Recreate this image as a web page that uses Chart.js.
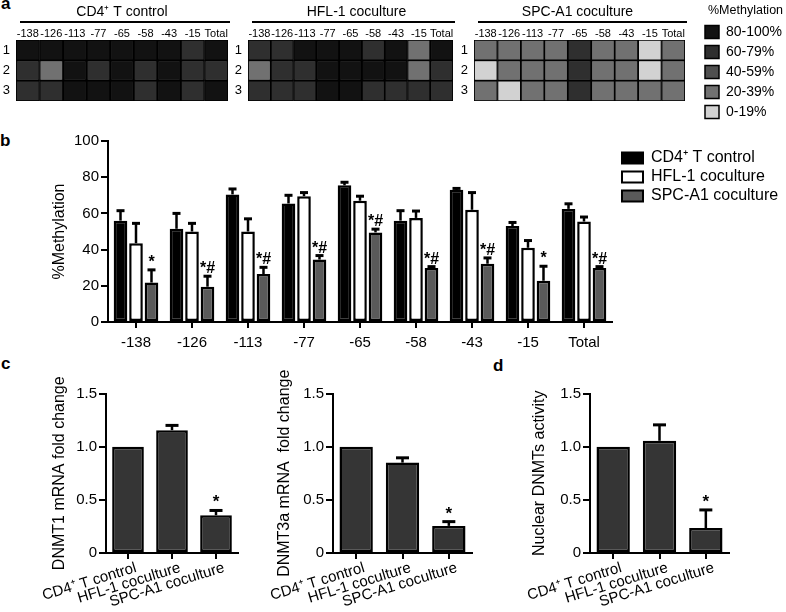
<!DOCTYPE html>
<html><head><meta charset="utf-8">
<script src="https://cdn.jsdelivr.net/npm/chart.js@4.4.1/dist/chart.umd.min.js"></script>
<style>
html,body{margin:0;padding:0;background:#fff;}
body{width:786px;height:612px;position:relative;overflow:hidden;font-family:'Liberation Sans',Arial,sans-serif;}
.box{position:absolute;}
.lab{position:absolute;font:bold 17px 'Liberation Sans',Arial,sans-serif;color:#000;line-height:17px;}
</style></head><body>
<div class="lab" style="left:1px;top:-5px">a</div>
<div class="lab" style="left:0px;top:132px">b</div>
<div class="lab" style="left:1px;top:355px">c</div>
<div class="lab" style="left:493px;top:357px">d</div>

<div class="box" style="left:0px;top:0px;width:232px;height:104px"><canvas id="hCD4"></canvas></div>
<div class="box" style="left:228px;top:0px;width:232px;height:104px"><canvas id="hHFL"></canvas></div>
<div class="box" style="left:455px;top:0px;width:233px;height:104px"><canvas id="hSPC"></canvas></div>
<div class="box" style="left:699px;top:0px;width:200px;height:140px"><canvas id="hLeg"></canvas></div>

<div class="box" style="left:0px;top:115px;width:620px;height:245px"><canvas id="bMain"></canvas></div>
<div class="box" style="left:619px;top:147px;width:380px;height:70px"><canvas id="bLeg"></canvas></div>

<div class="box" style="left:0px;top:370px;width:246px;height:242px"><canvas id="c1"></canvas></div>
<div class="box" style="left:220px;top:370px;width:260px;height:242px"><canvas id="c2"></canvas></div>
<div class="box" style="left:480px;top:370px;width:257px;height:242px"><canvas id="d1"></canvas></div>

<script>
// ---------- data ----------
const positions = ['-138','-126','-113','-77','-65','-58','-43','-15','Total'];
const rowLabels = ['1','2','3'];
const levelLabels = ['80-100%','60-79%','40-59%','20-39%','0-19%'];
const levelColors = ['#121212','#2f2f2f','#4f4f4f','#717171','#d2d2d2'];
// heatmap levels: index into levelLabels, rows 1..3
const cd4Levels = [
  [0,0,0,0,0,0,0,1,0],
  [1,3,0,1,0,1,0,1,1],
  [1,1,0,0,0,1,0,1,0]
];
const hflLevels = [
  [1,1,0,0,0,1,0,3,0],
  [3,1,1,0,0,0,0,3,1],
  [1,1,1,0,0,1,1,1,1]
];
const spcLevels = [
  [3,3,3,3,1,3,3,4,3],
  [4,3,3,3,1,3,3,4,3],
  [3,4,3,3,1,3,3,3,3]
];

const groups = ['CD4\u207A T control','HFL-1 coculture','SPC-A1 coculture'];
const groupColors = ['#000000','#ffffff','#5a5a5a'];

const cd4Meth = [56,51.5,70.5,65.5,75.5,56,73,53,62.5];
const cd4Err  = [5.5,8.5,3,4.5,1.7,5.5,0.8,2,2.8];
const hflMeth = [43.5,50,50,69.5,67,57.5,62,41,55.5];
const hflErr  = [11,4.5,7,2,2.5,3.8,9.5,4,2.5];
const spcMeth = [21.8,19.5,26.5,34.5,49.5,29.8,32.2,22.8,29.8];
const spcErr  = [7,5.8,3.7,2.2,1.8,0.8,3.2,8,0.8];
const spcMarks = ['*','*#','*#','*#','*#','*#','*#','*','*#'];
const methTicks = [0,20,40,60,80,100];

const dnmt1 = [1.0,1.155,0.355];
const dnmt1Err = [0,0.045,0.045];
const dnmt3a = [1.0,0.85,0.255];
const dnmt3aErr = [0,0.045,0.04];
const dnmtAct = [1.0,1.055,0.235];
const dnmtActErr = [0,0.15,0.17];
const cdMarks = ['','','*'];

// ---------- setup ----------
const FONT = "'Liberation Sans', Arial, sans-serif";
Chart.defaults.font.family = FONT;
Chart.defaults.color = '#000';
Chart.defaults.animation = false;
Chart.defaults.devicePixelRatio = 1;
Chart.defaults.events = [];
Chart.defaults.plugins.tooltip.enabled = false;

const errPlugin = {
  id: 'errbars',
  afterDatasetsDraw(chart, args, opts) {
    const ctx = chart.ctx, yS = chart.scales.y;
    chart.data.datasets.forEach((ds, di) => {
      const meta = chart.getDatasetMeta(di);
      meta.data.forEach((bar, i) => {
        const v = ds.data[i];
        const e = ds.err ? ds.err[i] : 0;
        const yTop = yS.getPixelForValue(v + e);
        ctx.save();
        ctx.strokeStyle = '#000';
        ctx.lineWidth = opts.lineWidth;
        if (e > 0) {
          ctx.beginPath();
          ctx.moveTo(bar.x, bar.y);
          ctx.lineTo(bar.x, yTop);
          ctx.stroke();
          ctx.lineWidth = opts.capWidth;
          ctx.beginPath();
          ctx.moveTo(bar.x - opts.cap / 2, yTop);
          ctx.lineTo(bar.x + opts.cap / 2, yTop);
          ctx.stroke();
        }
        if (ds.marks && ds.marks[i]) {
          ctx.fillStyle = '#000';
          ctx.font = opts.font;
          ctx.textAlign = 'center';
          ctx.textBaseline = 'alphabetic';
          ctx.fillText(ds.marks[i], bar.x + (opts.markDx || 0), yTop - opts.markGap);
        }
        ctx.restore();
      });
    });
  }
};

const headerPlugin = {
  id: 'header',
  afterDraw(chart, args, opts) {
    const ctx = chart.ctx, a = chart.chartArea;
    ctx.save();
    ctx.fillStyle = '#000';
    ctx.font = '14px ' + FONT;
    ctx.textAlign = 'center';
    ctx.textBaseline = 'middle';
    ctx.fillText(opts.text, (a.left + a.right) / 2 + (opts.dx || 0), 12);
    ctx.strokeStyle = '#000';
    ctx.lineWidth = 2;
    ctx.beginPath();
    ctx.moveTo(a.left + 4, 22);
    ctx.lineTo(a.right + 2, 22);
    ctx.stroke();
    ctx.restore();
  }
};

function heatChart(id, levels, title, yWidth, padRight, dx) {
  return new Chart(document.getElementById(id), {
    type: 'bar',
    data: {
      labels: positions,
      datasets: levels.map((row, r) => ({
        label: rowLabels[r],
        data: row.map(() => 1),
        backgroundColor: row.map(l => levelColors[l]),
        borderColor: '#000',
        borderWidth: 1.2,
        borderSkipped: false,
        categoryPercentage: 1,
        barPercentage: 1
      }))
    },
    options: {
      responsive: true, maintainAspectRatio: false,
      layout: { padding: { top: 22, right: padRight, bottom: 3, left: 0 } },
      plugins: { legend: { display: false }, header: { text: title, dx: dx } },
      scales: {
        x: {
          position: 'top', stacked: true,
          grid: { display: false, drawTicks: false }, border: { display: false },
          ticks: { font: { size: 11 }, color: '#000', padding: -1, autoSkip: false, maxRotation: 0 },
          afterFit(s) { s.height = 18; s.paddingLeft = 0; s.paddingRight = 0; }
        },
        y: {
          stacked: true, reverse: true, min: 0, max: rowLabels.length,
          grid: { display: false, drawTicks: false }, border: { display: false },
          afterBuildTicks(s) { s.ticks = rowLabels.map((l, i) => ({ value: i + 0.5 })); },
          ticks: { font: { size: 13 }, color: '#000', padding: 6, autoSkip: false,
                   callback: (v) => rowLabels[Math.floor(v)] },
          afterFit(s) { s.width = yWidth; s.paddingTop = 0; s.paddingBottom = 0; }
        }
      }
    },
    plugins: [headerPlugin]
  });
}

heatChart('hCD4', cd4Levels, 'CD4\u207A T control', 16, 4, 0);
heatChart('hHFL', hflLevels, 'HFL-1 coculture', 20, 7, 6);
heatChart('hSPC', spcLevels, 'SPC-A1 coculture', 19, 3, -2);

// heatmap legend
new Chart(document.getElementById('hLeg'), {
  type: 'bar',
  data: { labels: [], datasets: [] },
  options: {
    responsive: true, maintainAspectRatio: false,
    layout: { padding: 0 },
    scales: { x: { display: false }, y: { display: false } },
    plugins: {
      legend: {
        display: true, position: 'left', align: 'start',
        title: { display: true, text: '%Methylation', font: { size: 12.5 }, color: '#000', padding: { top: 4, bottom: 0 }, position: 'center' },
        labels: {
          boxWidth: 14, boxHeight: 13, padding: 6, font: { size: 14 }, color: '#000',
          generateLabels: () => levelLabels.map((t, i) => ({
            text: t, fillStyle: levelColors[i], strokeStyle: '#000', lineWidth: 1.5, hidden: false, index: i
          }))
        }
      }
    }
  }
});

// panel b
const methSeries = [cd4Meth, hflMeth, spcMeth];
const methErrs = [cd4Err, hflErr, spcErr];
new Chart(document.getElementById('bMain'), {
  type: 'bar',
  data: {
    labels: positions,
    datasets: groups.map((g, k) => ({
      label: g,
      data: methSeries[k],
      err: methErrs[k],
      marks: k === 2 ? spcMarks : null,
      backgroundColor: groupColors[k],
      borderColor: '#000',
      borderWidth: 2.5,
      borderSkipped: false,
      categoryPercentage: 0.83,
      barPercentage: 0.88
    }))
  },
  options: {
    responsive: true, maintainAspectRatio: false,
    layout: { padding: { top: 26, right: 8, bottom: 0, left: 0 } },
    plugins: { legend: { display: false }, errbars: { cap: 8, lineWidth: 2.5, capWidth: 3, font: 'bold 16px ' + FONT, markGap: 3 } },
    scales: {
      x: {
        grid: { drawOnChartArea: false, offset: false, tickLength: 6, tickColor: '#000', lineWidth: 2 },
        border: { color: '#000', width: 2 },
        ticks: { font: { size: 15 }, color: '#000', padding: 6, autoSkip: false, maxRotation: 0 },
        afterFit(s) { s.height = 38; }
      },
      y: {
        min: methTicks[0], max: methTicks[methTicks.length - 1],
        afterBuildTicks(s) { s.ticks = methTicks.map(v => ({ value: v })); },
        ticks: { font: { size: 15 }, color: '#000', padding: 2 },
        grid: { drawOnChartArea: false, tickLength: 7, tickColor: '#000', lineWidth: 2 },
        border: { color: '#000', width: 2 },
        title: { display: true, text: '%Methylation', font: { size: 16 }, color: '#000', padding: { top: 50, bottom: 0 } },
        afterFit(s) { s.width = 108; }
      }
    }
  },
  plugins: [errPlugin]
});

// panel b legend
new Chart(document.getElementById('bLeg'), {
  type: 'bar',
  data: {
    labels: [],
    datasets: groups.map((g, k) => ({ label: g, data: [], backgroundColor: groupColors[k], borderColor: '#000', borderWidth: 2 }))
  },
  options: {
    responsive: true, maintainAspectRatio: false,
    layout: { padding: 0 },
    scales: { x: { display: false }, y: { display: false } },
    plugins: {
      legend: {
        display: true, position: 'left', align: 'start',
        labels: { boxWidth: 21, boxHeight: 11, padding: 3, font: { size: 16 }, color: '#000' }
      }
    }
  }
});

// panels c, d
function foldChart(id, values, errs, yTitle, yWidth, titlePad, padRight) {
  return new Chart(document.getElementById(id), {
    type: 'bar',
    data: {
      labels: groups,
      datasets: [{
        data: values, err: errs, marks: cdMarks,
        backgroundColor: '#353535', borderColor: '#000', borderWidth: 2.5, borderSkipped: false,
        barPercentage: 0.72, categoryPercentage: 1
      }]
    },
    options: {
      responsive: true, maintainAspectRatio: false,
      layout: { padding: { top: 23.5, right: padRight, bottom: 0, left: 0 } },
      plugins: { legend: { display: false }, errbars: { cap: 13, lineWidth: 2.5, capWidth: 3, font: 'bold 17px ' + FONT, markGap: 3 } },
      scales: {
        x: {
          grid: { drawOnChartArea: false, offset: false, tickLength: 6, tickColor: '#000', lineWidth: 2 },
          border: { color: '#000', width: 2 },
          ticks: { font: { size: 15 }, color: '#000', padding: 0, autoSkip: false, minRotation: 17, maxRotation: 17, labelOffset: 8 },
          afterFit(s) { s.height = 59; }
        },
        y: {
          min: 0, max: 1.5,
          ticks: { stepSize: 0.5, font: { size: 15 }, color: '#000', padding: 2, callback: v => v === 0 ? '0' : v.toFixed(1) },
          grid: { drawOnChartArea: false, tickLength: 7, tickColor: '#000', lineWidth: 2 },
          border: { color: '#000', width: 2 },
          title: { display: true, text: yTitle, font: { size: 16 }, color: '#000', padding: { top: titlePad, bottom: 0 } },
          afterFit(s) { s.width = yWidth; }
        }
      }
    },
    plugins: [errPlugin]
  });
}

foldChart('c1', dnmt1, dnmt1Err, 'DNMT1 mRNA fold change', 106, 50, 8);
foldChart('c2', dnmt3a, dnmt3aErr, 'DNMT3a mRNA  fold change', 113, 55, 8);
foldChart('d1', dnmtAct, dnmtActErr, 'Nuclear DNMTs activity', 110, 50, 8);
</script>
</body></html>
